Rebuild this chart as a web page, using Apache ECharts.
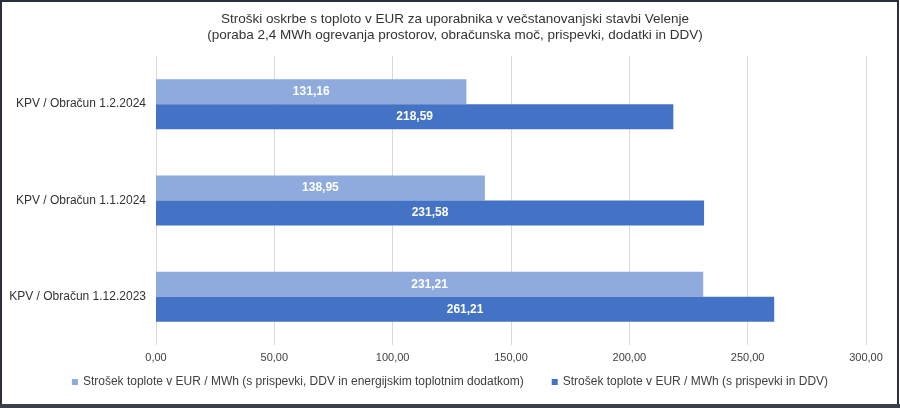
<!DOCTYPE html>
<html>
<head>
<meta charset="utf-8">
<script src="https://cdn.jsdelivr.net/npm/echarts@6/dist/echarts.min.js"></script>
<style>
html, body { margin: 0; padding: 0; background: #fff; }
#chart { width: 900px; height: 408px; }
</style>
</head>
<body>
<div id="chart"></div>
<script>
// podatki
const categories = ['KPV / Obračun 1.2.2024', 'KPV / Obračun 1.1.2024', 'KPV / Obračun 1.12.2023'];
const withSupplement = [131.16, 138.95, 231.21];
const withoutSupplement = [218.59, 231.58, 261.21];
const seriesNames = [
    'Strošek toplote v EUR / MWh (s prispevki, DDV in energijskim toplotnim dodatkom)',
    'Strošek toplote v EUR / MWh (s prispevki in DDV)'
];
const xTicks = { min: 0, max: 300, interval: 50 };

function fmt(v) {
    return Number(v).toFixed(2).replace('.', ',');
}

const chart = echarts.init(document.getElementById('chart'));
const font = 'Liberation Sans, Arial, sans-serif';

const option = {
    animation: false,
    textStyle: { fontFamily: font },
    title: {
        text: 'Stroški oskrbe s toploto v EUR za uporabnika v večstanovanjski stavbi Velenje\n(poraba 2,4 MWh ogrevanja prostorov, obračunska moč, prispevki, dodatki in DDV)',
        left: 450,
        textAlign: 'center',
        top: 6,
        textStyle: { fontSize: 13.5, fontWeight: 'normal', color: '#333', lineHeight: 16, fontFamily: font }
    },
    legend: {
        bottom: 15,
        left: 'center',
        itemWidth: 6,
        itemHeight: 6,
        itemGap: 28,
        icon: 'rect',
        textStyle: { fontSize: 12, color: '#404040', fontFamily: font },
        data: seriesNames
    },
    grid: { left: 156, right: 34, top: 56, bottom: 63 },
    xAxis: {
        type: 'value',
        min: xTicks.min,
        max: xTicks.max,
        interval: xTicks.interval,
        axisLine: { show: false },
        axisTick: { show: false },
        splitLine: { lineStyle: { color: '#d9d9d9' } },
        axisLabel: { formatter: fmt, fontSize: 11, color: '#404040', margin: 7, fontFamily: font }
    },
    yAxis: {
        type: 'category',
        inverse: true,
        data: categories,
        axisLine: { show: false },
        axisTick: { show: false },
        axisLabel: { fontSize: 12, color: '#333', margin: 10, fontFamily: font }
    },
    series: [
        {
            name: seriesNames[0],
            type: 'bar',
            data: withSupplement,
            barWidth: 25,
            barGap: '0%',
            itemStyle: { color: '#8faadc' },
            label: {
                show: true, position: 'inside', formatter: p => fmt(p.value),
                color: '#fff', fontWeight: 'bold', fontSize: 12, fontFamily: font
            }
        },
        {
            name: seriesNames[1],
            type: 'bar',
            data: withoutSupplement,
            barWidth: 25,
            barGap: '0%',
            itemStyle: { color: '#4472c4' },
            label: {
                show: true, position: 'inside', formatter: p => fmt(p.value),
                color: '#fff', fontWeight: 'bold', fontSize: 12, fontFamily: font
            }
        }
    ],
    graphic: [
        {
            type: 'rect',
            silent: true,
            shape: { x: 1, y: 1, width: 897, height: 404 },
            style: { fill: 'none', stroke: '#2a2f3d', lineWidth: 2 }
        },
        {
            type: 'rect',
            silent: true,
            shape: { x: 0, y: 404, width: 900, height: 4 },
            style: { fill: '#3a3f4a' }
        }
    ]
};

chart.setOption(option);
</script>
</body>
</html>
